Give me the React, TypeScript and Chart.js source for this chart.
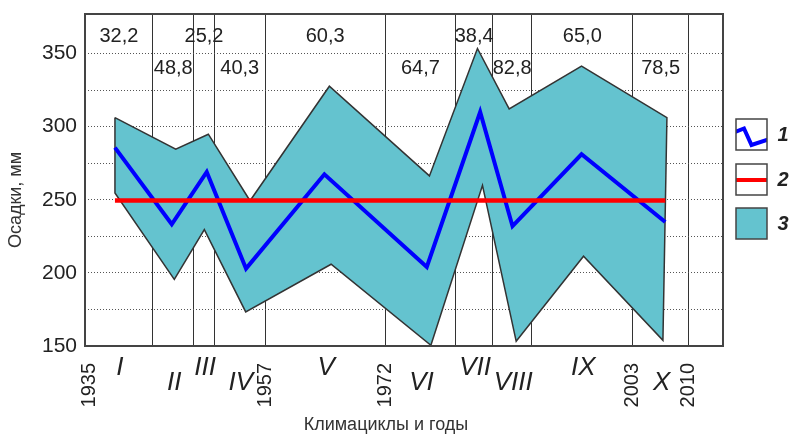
import React, { useEffect, useRef } from 'react';
import { Chart, registerables } from 'chart.js';

Chart.register(...registerables);

const FONT = "'Liberation Sans', Arial, Helvetica, sans-serif";
const TEXT = '#222222';
const TEAL = '#64C3CF';

// axes
const xMin = 1934.44;
const xMax = 2014.31;
const yMin = 150;
const yMax = 377;
const yGridValues = [150, 175, 200, 225, 250, 275, 300, 325, 350];
const yLabelStep = 50;
const yearLabels = [1935, 1957, 1972, 2003, 2010];

// climatic cycles
const cycleBounds = [1934.44, 1942.92, 1948.05, 1950.63, 1957, 1972, 1980.87, 1985.45, 1990.39, 2003, 2010];
const cycleNames = ['I', 'II', 'III', 'IV', 'V', 'VI', 'VII', 'VIII', 'IX', 'X'];
const cycleValues = ['32,2', '48,8', '25,2', '40,3', '60,3', '64,7', '38,4', '82,8', '65,0', '78,5'];

// series 1: mean precipitation per cycle
const meanYears = [1938.19, 1945.3, 1949.68, 1954.6, 1964.41, 1977.23, 1983.91, 1987.96, 1996.6, 2007.08];
const meanValues = [285.6, 233.2, 269.0, 202.9, 267.4, 204.0, 310.0, 231.9, 281.1, 234.8];

// series 2: norm
const normYears = [1938.19, 2007.08];
const normValues = [249.5, 249.5];

// series 3: range (upper and lower envelope)
const upperYears = [1938.19, 1945.8, 1949.88, 1955.1, 1965.03, 1977.56, 1983.57, 1987.54, 1996.6, 2007.29];
const upperValues = [306.2, 284.5, 294.8, 249.3, 327.6, 266.3, 353.4, 312.1, 341.3, 306.2];
const lowerYears = [1938.19, 1945.62, 1949.38, 1954.56, 1965.25, 1977.74, 1984.2, 1988.42, 1996.85, 2006.79];
const lowerValues = [254.6, 195.6, 229.6, 173.3, 205.9, 150.5, 259.9, 153.2, 211.4, 153.9];

const seriesLabels = ['1', '2', '3'];

const toPoints = (xs: number[], ys: number[]) => xs.map((x, i) => ({ x, y: ys[i] }));

const overlayPlugin = {
  id: 'overlay',
  afterDraw(chart: any) {
    const ctx: CanvasRenderingContext2D = chart.ctx;
    const xs = chart.scales.x;
    const { left, right, top, bottom } = chart.chartArea;
    ctx.save();

    // frame
    ctx.strokeStyle = '#444444';
    ctx.lineWidth = 2;
    ctx.strokeRect(left, top, right - left, bottom - top);

    // cycle values on top
    ctx.fillStyle = TEXT;
    ctx.textAlign = 'center';
    ctx.textBaseline = 'middle';
    ctx.font = `20px ${FONT}`;
    for (let i = 0; i < cycleValues.length; i++) {
      const cx = (xs.getPixelForValue(cycleBounds[i]) + xs.getPixelForValue(cycleBounds[i + 1])) / 2;
      ctx.fillText(cycleValues[i], cx, top + (i % 2 === 0 ? 22 : 54));
    }

    // roman numerals below
    ctx.font = `italic 26px ${FONT}`;
    for (let i = 0; i < cycleNames.length; i++) {
      const cx = (xs.getPixelForValue(cycleBounds[i]) + xs.getPixelForValue(cycleBounds[i + 1])) / 2;
      ctx.fillText(cycleNames[i], cx + 1, bottom + (i % 2 === 0 ? 22 : 37));
    }

    // year labels rotated
    ctx.font = `20px ${FONT}`;
    for (const yr of yearLabels) {
      const px = xs.getPixelForValue(yr);
      ctx.save();
      ctx.translate(px, bottom + 17);
      ctx.rotate(-Math.PI / 2);
      ctx.textAlign = 'right';
      ctx.textBaseline = 'middle';
      ctx.fillText(String(yr), 0, 0);
      ctx.restore();
    }

    // axis titles
    ctx.fillStyle = '#333333';
    ctx.font = `18px ${FONT}`;
    ctx.textAlign = 'center';
    ctx.textBaseline = 'middle';
    ctx.fillText('Климациклы и годы', 386, 425);
    ctx.save();
    ctx.translate(16, 200);
    ctx.rotate(-Math.PI / 2);
    ctx.fillText('Осадки, мм', 0, 0);
    ctx.restore();

    // legend
    const bx = 736;
    const bw = 31;
    const boxYs = [119, 164, 208];
    const datasets = chart.data.datasets;
    for (let i = 0; i < 3; i++) {
      const by = boxYs[i];
      ctx.save();
      ctx.fillStyle = i === 2 ? TEAL : '#ffffff';
      ctx.fillRect(bx, by, bw, bw);
      ctx.beginPath();
      ctx.rect(bx, by, bw, bw);
      ctx.clip();
      ctx.lineWidth = 4;
      if (i === 0) {
        ctx.strokeStyle = datasets[0].borderColor;
        ctx.beginPath();
        ctx.moveTo(bx - 1, by + 13);
        ctx.lineTo(bx + 8, by + 9.5);
        ctx.lineTo(bx + 15.5, by + 26);
        ctx.lineTo(bx + bw + 1, by + 20.5);
        ctx.stroke();
      } else if (i === 1) {
        ctx.strokeStyle = datasets[1].borderColor;
        ctx.beginPath();
        ctx.moveTo(bx, by + 16);
        ctx.lineTo(bx + bw, by + 16);
        ctx.stroke();
      }
      ctx.restore();
      ctx.strokeStyle = '#444444';
      ctx.lineWidth = 1.5;
      ctx.strokeRect(bx, by, bw, bw);
      ctx.fillStyle = TEXT;
      ctx.font = `italic bold 20px ${FONT}`;
      ctx.textAlign = 'center';
      ctx.textBaseline = 'middle';
      ctx.fillText(datasets[i].label, 783, by + bw / 2 + 1);
    }

    ctx.restore();
  },
};

export default function App() {
  const canvasRef = useRef<HTMLCanvasElement | null>(null);

  useEffect(() => {
    document.body.style.margin = '0';
    const canvas = canvasRef.current;
    if (!canvas) return;

    const bandPoints = [
      ...toPoints(upperYears, upperValues),
      ...toPoints(lowerYears, lowerValues).reverse(),
      { x: upperYears[0], y: upperValues[0] },
    ];

    const chart = new Chart(canvas, {
      type: 'line',
      data: {
        datasets: [
          {
            label: seriesLabels[0],
            data: toPoints(meanYears, meanValues),
            borderColor: '#0000FF',
            borderWidth: 4,
            pointRadius: 0,
            tension: 0,
            fill: false,
            order: 2,
          },
          {
            label: seriesLabels[1],
            data: toPoints(normYears, normValues),
            borderColor: '#FF0000',
            borderWidth: 4.5,
            pointRadius: 0,
            tension: 0,
            fill: false,
            order: 1,
          },
          {
            label: seriesLabels[2],
            data: bandPoints,
            borderColor: '#333333',
            borderWidth: 1.5,
            backgroundColor: TEAL,
            pointRadius: 0,
            tension: 0,
            fill: 'shape',
            order: 3,
          },
        ],
      },
      options: {
        responsive: false,
        maintainAspectRatio: false,
        animation: false,
        events: [],
        layout: { padding: { top: 14, right: 67, left: 0, bottom: 0 } },
        plugins: {
          legend: { display: false },
          tooltip: { enabled: false },
        },
        scales: {
          x: {
            type: 'linear',
            min: xMin,
            max: xMax,
            afterBuildTicks: (scale: any) => {
              scale.ticks = cycleBounds.slice(1).map((v) => ({ value: v }));
            },
            afterFit: (scale: any) => {
              scale.height = 90;
              scale.paddingLeft = 0;
              scale.paddingRight = 0;
            },
            ticks: { display: false },
            grid: { color: '#333333', lineWidth: 1, drawTicks: false },
            border: { display: false },
          },
          y: {
            type: 'linear',
            min: yMin,
            max: yMax,
            afterBuildTicks: (scale: any) => {
              scale.ticks = yGridValues.map((v) => ({ value: v }));
            },
            afterFit: (scale: any) => {
              scale.width = 85;
              scale.paddingTop = 0;
              scale.paddingBottom = 0;
            },
            ticks: {
              autoSkip: false,
              padding: 8,
              color: TEXT,
              font: { family: FONT, size: 21 },
              callback: (v: any) => (Number(v) % yLabelStep === 0 ? String(v) : ''),
            },
            grid: { color: '#555555', lineWidth: 1, drawTicks: false },
            border: { display: false, dash: [1, 2] },
          },
        },
      },
      plugins: [overlayPlugin],
    });

    return () => chart.destroy();
  }, []);

  return (
    <div style={{ width: 790, height: 436 }}>
      <canvas ref={canvasRef} width={790} height={436} />
    </div>
  );
}
